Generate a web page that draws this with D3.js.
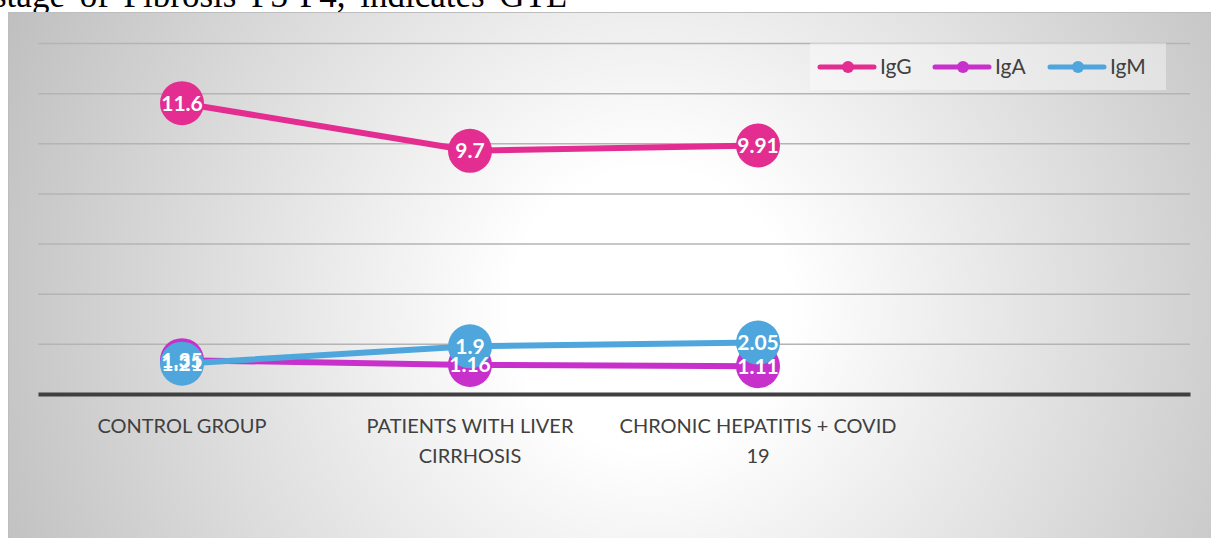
<!DOCTYPE html>
<html>
<head>
<meta charset="utf-8">
<script src="https://cdn.jsdelivr.net/npm/d3@7"></script>
<style>
  body { margin: 0; background: #fff; }
  svg { display: block; }
</style>
</head>
<body>
<svg id="chart"></svg>
<script>
const categories = ["CONTROL GROUP", "PATIENTS WITH LIVER CIRRHOSIS", "CHRONIC HEPATITIS + COVID 19", ""];
const seriesNames = ["IgG", "IgA", "IgM"];
const igG = [11.6, 9.7, 9.91];
const igA = [1.35, 1.16, 1.11];
const igM = [1.21, 1.9, 2.05];
const yTicks = [0, 2, 4, 6, 8, 10, 12, 14];
const heading = "stage of Fibrosis F3-F4, indicates GTL";

const width = 1211, height = 538;
const colors = ["#e32d91", "#c830cc", "#4ea6dc"];
const series = [igG, igA, igM].map(function (vals, i) {
    return { name: seriesNames[i], color: colors[i], values: vals };
});

const svg = d3.select("#chart")
    .attr("width", width)
    .attr("height", height);

// text of the page above the chart, cut off at the top
svg.append("text")
    .attr("x", -7)
    .attr("y", 7)
    .attr("font-family", "Liberation Serif, serif")
    .attr("font-size", 35)
    .attr("word-spacing", 6)
    .attr("fill", "#000")
    .text(heading);

// chart area background
const defs = svg.append("defs");
const grad = defs.append("radialGradient")
    .attr("id", "bg")
    .attr("gradientUnits", "userSpaceOnUse")
    .attr("cx", 650).attr("cy", 310).attr("r", 700);
grad.append("stop").attr("offset", 0.2).attr("stop-color", "#ffffff");
grad.append("stop").attr("offset", 1).attr("stop-color", "#c0c0c0");

svg.append("rect")
    .attr("x", 8.5).attr("y", 12.5)
    .attr("width", width).attr("height", height)
    .attr("fill", "url(#bg)")
    .attr("stroke", "#bdbdbd");

const plotLeft = 38, plotRight = 1190, plotTop = 43, plotBottom = 394;

const x = d3.scaleBand()
    .domain(categories)
    .range([plotLeft, plotRight]);

const y = d3.scaleLinear()
    .domain([0, 14])
    .range([plotBottom, plotTop]);

function cx(i) {
    return x(categories[i]) + x.bandwidth() / 2;
}

// gridlines
const grid = svg.append("g")
    .attr("transform", "translate(" + plotLeft + ",0)")
    .call(d3.axisLeft(y)
        .tickValues(yTicks.slice(1))
        .tickSize(-(plotRight - plotLeft))
        .tickFormat(""));
grid.select(".domain").remove();
grid.selectAll(".tick line")
    .attr("stroke", "#b4b4b4")
    .attr("stroke-width", 1.5);

// legend box
const legend = svg.append("g");
legend.append("rect")
    .attr("x", 810).attr("y", 43)
    .attr("width", 356).attr("height", 47)
    .attr("fill", "#ffffff")
    .attr("fill-opacity", 0.4);

const entry = legend.selectAll(".entry")
    .data(series)
    .enter().append("g")
    .attr("class", "entry")
    .attr("transform", function (d, i) {
        return "translate(" + (820 + i * 115) + ",67)";
    });
entry.append("line")
    .attr("x1", 0).attr("x2", 54)
    .attr("stroke", function (d) { return d.color; })
    .attr("stroke-width", 5)
    .attr("stroke-linecap", "round");
entry.append("circle")
    .attr("cx", 28).attr("r", 6)
    .attr("fill", function (d) { return d.color; });
entry.append("text")
    .attr("x", 60)
    .attr("dy", "0.35em")
    .attr("font-family", "Lato, sans-serif")
    .attr("font-size", 21)
    .attr("fill", "#404040")
    .text(function (d) { return d.name; });

// x axis
const xAxis = svg.append("g")
    .attr("transform", "translate(0," + plotBottom + ")")
    .call(d3.axisBottom(x).tickSize(0).tickSizeOuter(0));
xAxis.select(".domain")
    .attr("stroke", "#404040")
    .attr("stroke-width", 4);
xAxis.selectAll(".tick text")
    .attr("dy", null)
    .attr("y", null)
    .attr("font-family", "Lato, sans-serif")
    .attr("font-size", 20)
    .attr("fill", "#404040")
    .call(wrap, x.bandwidth() - 4);

function wrap(texts, maxWidth) {
    texts.each(function () {
        const text = d3.select(this);
        const words = text.text().split(/\s+/);
        text.text(null);
        let onLine = [];
        let lineNo = 0;
        let tspan = text.append("tspan").attr("x", 0).attr("y", 39);
        words.forEach(function (w) {
            onLine.push(w);
            tspan.text(onLine.join(" "));
            if (tspan.node().getComputedTextLength() > maxWidth && onLine.length > 1) {
                onLine.pop();
                tspan.text(onLine.join(" "));
                onLine = [w];
                lineNo++;
                tspan = text.append("tspan").attr("x", 0).attr("y", 39 + lineNo * 30).text(w);
            }
        });
    });
}

// series
const line = d3.line()
    .x(function (d, i) { return cx(i); })
    .y(function (d) { return y(d); });

const sg = svg.selectAll(".series")
    .data(series)
    .enter().append("g")
    .attr("class", "series");

sg.append("path")
    .attr("d", function (d) { return line(d.values); })
    .attr("fill", "none")
    .attr("stroke", function (d) { return d.color; })
    .attr("stroke-width", 6)
    .attr("stroke-linejoin", "round");

sg.selectAll("circle")
    .data(function (d) {
        return d.values.map(function (v) { return { v: v, color: d.color }; });
    })
    .enter().append("circle")
    .attr("cx", function (d, i) { return cx(i); })
    .attr("cy", function (d) { return y(d.v); })
    .attr("r", 22)
    .attr("fill", function (d) { return d.color; });

// data labels on top
series.forEach(function (s) {
    svg.append("g").selectAll("text")
        .data(s.values)
        .enter().append("text")
        .attr("x", function (d, i) { return cx(i); })
        .attr("y", function (d) { return y(d); })
        .attr("dy", "0.35em")
        .attr("text-anchor", "middle")
        .attr("font-family", "Lato, sans-serif")
        .attr("font-weight", "bold")
        .attr("font-size", 21)
        .attr("fill", "#fff")
        .text(function (d) { return d; });
});
</script>
</body>
</html>
